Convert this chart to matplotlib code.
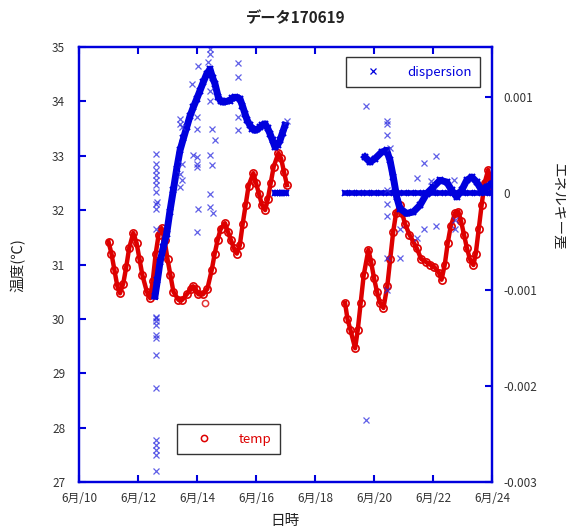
import numpy as np
import matplotlib.pyplot as plt
from matplotlib.lines import Line2D

plt.rcParams['font.family'] = ['Noto Sans CJK JP', 'DejaVu Sans']

BLUE = '#0000dd'
RED = '#dd0000'

# temp (left axis, deg C); x = day of June
temp_day_a = [11.0, 11.1, 11.2, 11.3, 11.39, 11.5, 11.6, 11.7, 11.84, 11.95,
              12.05, 12.15, 12.3, 12.41, 12.5, 12.6, 12.7, 12.8, 12.9, 13.0,
              13.1, 13.2, 13.37, 13.5, 13.65, 13.8, 13.87, 13.95, 14.05, 14.2,
              14.35, 14.5, 14.6, 14.7, 14.8, 14.95, 15.05, 15.15, 15.25, 15.35,
              15.45, 15.55, 15.65, 15.75, 15.91, 16.0, 16.1, 16.2, 16.31, 16.4,
              16.5, 16.6, 16.76, 16.85, 16.95, 17.05]
temp_val_a = [31.42, 31.2, 30.9, 30.6, 30.47, 30.65, 30.95, 31.3, 31.58, 31.4,
              31.1, 30.8, 30.5, 30.38, 30.7, 31.2, 31.55, 31.67, 31.45, 31.1,
              30.8, 30.5, 30.35, 30.35, 30.45, 30.55, 30.6, 30.55, 30.45, 30.45,
              30.55, 30.9, 31.2, 31.45, 31.65, 31.76, 31.6, 31.45, 31.3, 31.2,
              31.35, 31.75, 32.1, 32.45, 32.68, 32.5, 32.3, 32.1, 32.0, 32.2,
              32.5, 32.8, 33.05, 32.95, 32.7, 32.46]
temp_day_b = [19.02, 19.1, 19.2, 19.36, 19.45, 19.55, 19.65, 19.81, 19.9, 20.0,
              20.1, 20.2, 20.32, 20.45, 20.55, 20.65, 20.75, 20.88, 20.95, 21.05,
              21.2, 21.35, 21.45, 21.6, 21.75, 21.9, 22.05, 22.2, 22.29, 22.4,
              22.5, 22.6, 22.75, 22.86, 22.95, 23.05, 23.15, 23.25, 23.37, 23.45,
              23.55, 23.65, 23.75, 23.87, 23.95, 24.0]
temp_val_b = [30.29, 30.0, 29.8, 29.46, 29.8, 30.3, 30.8, 31.27, 31.05, 30.75,
              30.5, 30.3, 30.2, 30.6, 31.1, 31.6, 31.95, 32.1, 31.95, 31.75,
              31.55, 31.4, 31.3, 31.1, 31.05, 31.0, 30.95, 30.85, 30.72, 31.0,
              31.4, 31.7, 31.95, 31.97, 31.8, 31.55, 31.3, 31.1, 30.99, 31.2,
              31.65, 32.1, 32.5, 32.74, 32.55, 32.4]
temp_stray_day = [14.27]
temp_stray_val = [30.29]

# dispersion (right axis), in units of 1e-3
disp_day_a = [12.576, 12.66, 12.746, 12.86, 12.973, 13.08, 13.197, 13.31, 13.424, 13.54,
              13.651, 13.76, 13.875, 13.99, 14.102, 14.22, 14.329, 14.441, 14.53, 14.61,
              14.722, 14.8, 14.892, 15.0, 15.119, 15.2, 15.288, 15.37, 15.458, 15.54,
              15.627, 15.7, 15.797, 15.88, 15.966, 16.05, 16.136, 16.22, 16.305, 16.39,
              16.475, 16.56, 16.644, 16.73, 16.814, 16.9, 16.983]
disp_val_a = [-1.07, -0.9, -0.715, -0.56, -0.418, -0.19, 0.031, 0.25, 0.446, 0.57,
              0.687, 0.8, 0.894, 0.98, 1.067, 1.16, 1.24, 1.29, 1.2, 1.137,
              0.998, 0.96, 0.946, 0.955, 0.964, 0.99, 0.998, 0.995, 0.981, 0.91,
              0.826, 0.76, 0.705, 0.67, 0.653, 0.665, 0.687, 0.71, 0.722, 0.68,
              0.619, 0.55, 0.48, 0.5, 0.549, 0.63, 0.705]
disp_day_b = [19.695, 19.864, 20.034, 20.261, 20.431, 20.542, 20.654, 20.769, 20.881, 21.108,
              21.332, 21.559, 21.786, 22.01, 22.237, 22.464, 22.634, 22.803, 22.973, 23.142,
              23.312, 23.481, 23.651, 23.82, 23.99]
disp_val_b = [0.376, 0.324, 0.36, 0.428, 0.446, 0.342, 0.169, -0.038, -0.159, -0.21,
              -0.194, -0.124, -0.003, 0.065, 0.135, 0.117, 0.031, -0.038, 0.031, 0.135,
              0.169, 0.117, 0.031, 0.065, 0.1]
zero_day_a = [16.64, 16.7, 16.76, 16.82, 16.88, 16.94, 17.0]
zero_val_a = [0, 0, 0, 0, 0, 0, 0]
zero_day_b = [19.0, 19.25, 19.5, 19.75, 20.0, 20.25, 20.5, 20.75, 21.0, 21.25, 21.5,
              21.75, 22.0, 22.25, 22.5, 22.75, 23.0, 23.25, 23.5, 23.75, 24.0]
zero_val_b = [0] * len(zero_day_b)
stray_day = [12.6, 12.62, 12.6, 12.6, 12.6, 12.6, 12.6, 12.65, 12.62, 12.6, 12.62,
             12.6, 12.62, 12.6, 12.6, 12.62, 12.6, 12.6, 12.6, 12.62, 12.6, 12.6, 12.62, 12.6,
             13.42, 13.42, 13.48, 13.48, 13.42, 13.48, 13.42,
             13.82, 14.04, 13.875, 13.99, 13.99, 13.99, 14.04, 13.99, 13.99, 13.99,
             14.44, 14.44, 14.38, 14.44, 14.44, 14.5, 14.61, 14.44, 14.5, 14.44, 14.44, 14.55,
             15.38, 15.38, 15.38, 15.38, 17.04,
             19.73, 20.43, 20.43, 20.43, 20.54, 20.43, 20.43, 20.43, 20.43, 20.43,
             20.88, 20.88, 21.45, 21.71, 22.1, 21.45, 21.69, 22.1, 21.92, 22.71,
             22.75, 22.75, 19.73]
stray_val = [0.411, 0.308, 0.238, 0.187, 0.135, 0.083, 0.013, -0.09, -0.107, -0.159, -0.366,
             -1.282, -1.298, -1.326, -1.368, -1.472, -1.506, -1.679, -2.024, -2.56, -2.611,
             -2.663, -2.715, -2.888,
             0.774, 0.722, 0.687, 0.308, 0.204, 0.135, 0.065,
             1.137, 1.326, 0.394, 0.376, 0.308, 0.273, -0.159, -0.401, 0.791, 0.67,
             1.5, 1.448, 1.361, 1.067, 0.964, 0.67, 0.549, 0.394, 0.29, -0.003, -0.142, -0.21,
             1.35, 1.205, 0.791, 0.653, 0.756,
             0.905, 0.756, 0.722, 0.601, 0.474, 0.031, -0.107, -0.238, -0.677, -1.005,
             -0.376, -0.677, 0.163, 0.314, 0.391, -0.461, -0.376, -0.339, 0.127, 0.142,
             -0.28, -0.366, -2.36]

x_ticks = [10, 12, 14, 16, 18, 20, 22, 24]
x_labels = ['6月/%d' % d for d in x_ticks]
temp_ticks = [27, 28, 29, 30, 31, 32, 33, 34, 35]
disp_ticks = [-0.003, -0.002, -0.001, 0, 0.001]
disp_labels = ['-0.003', '-0.002', '-0.001', '0', '0.001']

fig = plt.figure(figsize=(5.66, 5.3), dpi=100)
ax = fig.add_axes([79 / 566, 48 / 530, 413 / 566, 435 / 530])
ax2 = ax.twinx()

# temp
for d, v in [(temp_day_a, temp_val_a), (temp_day_b, temp_val_b)]:
    ax.plot(d, v, color=RED, lw=3.2, marker='o', ms=5.2, mfc='none', mew=1.2)
ax.plot(temp_stray_day, temp_stray_val, ls='none', color=RED, marker='o', ms=4.5,
        mfc='none', mew=1.1, alpha=0.8)

# dispersion
k = 1e-3
for d, v in [(zero_day_a, zero_val_a), (zero_day_b, zero_val_b)]:
    ax2.plot(d, np.array(v) * k, color=BLUE, lw=4, marker='x', ms=4.5, mew=1.2)
for d, v in [(disp_day_a, disp_val_a), (disp_day_b, disp_val_b)]:
    ax2.plot(d, np.array(v) * k, color=BLUE, lw=5, marker='x', ms=5, mew=1.5)
ax2.plot(stray_day, np.array(stray_val) * k, ls='none', color='#2a2ae0',
         marker='x', ms=4.5, mew=0.9, alpha=0.75)

ax.set_xlim(10, 24)
ax.set_ylim(27, 35)
ax2.set_ylim(-0.003, 0.00152)

ax.set_xticks(x_ticks)
ax.set_xticklabels(x_labels)
ax.set_yticks(temp_ticks)
ax2.set_yticks(disp_ticks)
ax2.set_yticklabels(disp_labels)

ax.tick_params(direction='in', color=BLUE, length=5, width=1.5,
               labelcolor='#333333', labelsize=8.5, top=True, right=False)
ax.tick_params(axis='y', pad=10)
ax.tick_params(axis='x', pad=7)
ax2.tick_params(direction='in', color=BLUE, length=5, width=1.5,
                labelcolor='#333333', labelsize=8.5, pad=8)
for a in (ax, ax2):
    for s in a.spines.values():
        s.set_color(BLUE)
        s.set_linewidth(1.6)

fig.text(296 / 566, 1 - 18 / 530, 'データ170619', ha='center', va='center',
         fontsize=11, fontweight='bold', color='#222222')
fig.text(285 / 566, 1 - 521 / 530, '日時', ha='center', va='center',
         fontsize=10.5, color='#222222')
fig.text(18 / 566, 1 - 265 / 530, '温度(℃)', ha='center', va='center',
         rotation=90, fontsize=10.5, color='#222222')
fig.text(558 / 566, 1 - 207 / 530, 'エネルギー差', ha='center', va='center',
         rotation=270, fontsize=10.5, color='#222222')

h_disp = Line2D([], [], ls='none', color=BLUE, marker='x', ms=4.5, mew=0.9)
h_temp = Line2D([], [], ls='none', color=RED, marker='o', ms=4.5, mfc='none', mew=1.1)
leg = ax2.legend([h_disp], ['dispersion'], loc='upper right',
                 bbox_to_anchor=(480 / 566, 1 - 57 / 530), bbox_transform=fig.transFigure,
                 fancybox=False, edgecolor='#333333', framealpha=1, fontsize=9.5,
                 labelcolor=BLUE, handlelength=2.8, handletextpad=1.2, borderpad=0.65,
                 borderaxespad=0)
leg.get_frame().set_linewidth(1)
leg2 = ax2.legend([h_temp], ['temp'], loc='upper left',
                  bbox_to_anchor=(177 / 566, 1 - 424 / 530), bbox_transform=fig.transFigure,
                  fancybox=False, edgecolor='#333333', framealpha=1, fontsize=9.5,
                  labelcolor=RED, handlelength=2.8, handletextpad=1.2, borderpad=0.65,
                  borderaxespad=0)
leg2.get_frame().set_linewidth(1)
ax2.add_artist(leg)

fig.savefig('out.png', dpi=100)
